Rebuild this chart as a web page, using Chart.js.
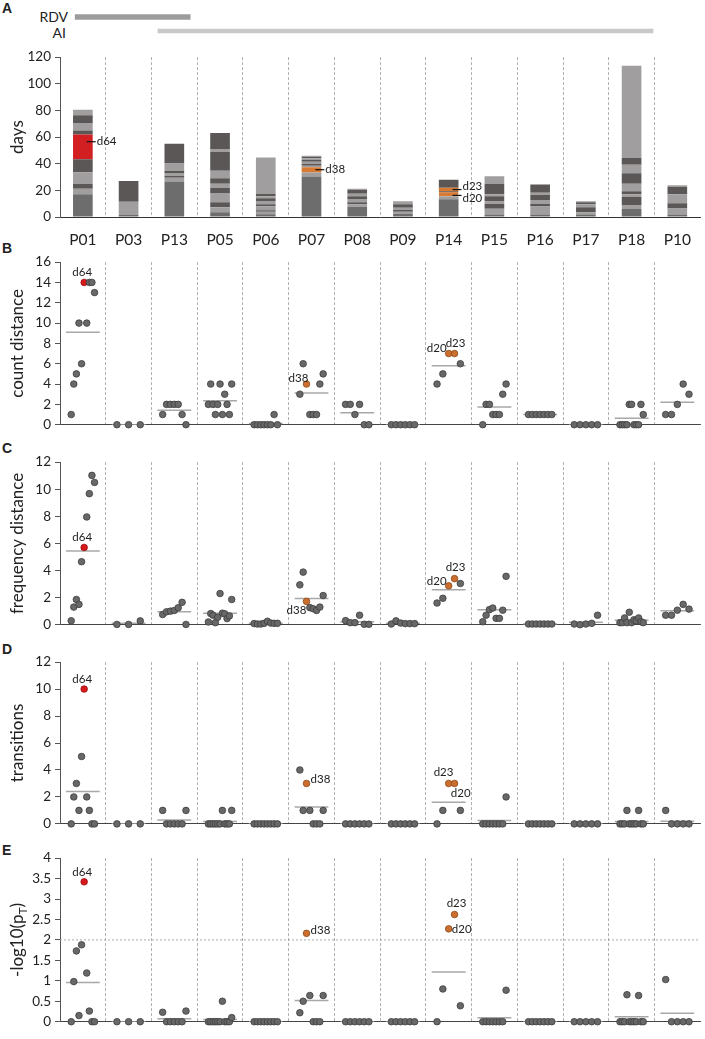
<!DOCTYPE html>
<html>
<head>
<meta charset="utf-8">
<script src="https://cdn.jsdelivr.net/npm/chart.js@4.4.0/dist/chart.umd.min.js"></script>
<style>
  body{margin:0;background:#fff;width:705px;height:1039px;position:relative;overflow:hidden;font-family:Lato,"Open Sans",sans-serif;color:#222}
  canvas{position:absolute;left:0}
  .lbl{position:absolute;left:0;font-size:14px;text-align:right;line-height:16px}
  .pl{position:absolute;left:2px;font:bold 14px "Liberation Sans",Arial,sans-serif;line-height:16px}
</style>
</head>
<body>
<div class="pl" style="top:0">A</div>
<div class="pl" style="top:240px">B</div>
<div class="pl" style="top:440px">C</div>
<div class="pl" style="top:641px">D</div>
<div class="pl" style="top:842px">E</div>
<div class="lbl" style="top:9px;width:68px">RDV</div>
<div class="lbl" style="top:25px;width:66px">AI</div>

<canvas id="cT" width="705" height="40" style="top:5px"></canvas>
<canvas id="cA" width="705" height="210" style="top:45px"></canvas>
<canvas id="cB" width="705" height="187" style="top:250px"></canvas>
<canvas id="cC" width="705" height="187" style="top:450px"></canvas>
<canvas id="cD" width="705" height="186" style="top:650px"></canvas>
<canvas id="cE" width="705" height="188" style="top:846px"></canvas>

<script>
const FONT = 'Lato, "Open Sans", sans-serif';

// ---- data ----
const patients = ['P01','P03','P13','P05','P06','P07','P08','P09','P14','P15','P16','P17','P18','P10'];

// treatment periods, in patient-column units
const therapyNames = ['RDV','AI'];
const rdvSpan = [0.33, 2.83];
const aiSpan = [2.13, 12.89];

// panel A: top of each stacked segment (days) and its kind
// m = base, d = dark, l = light, r = red sample, o = orange sample
const segTops = [
  [17, 21.2, 25, 33.6, 43.4, 62, 65, 70.6, 76.3, 80.5],
  [1.5, 11.4, 27],
  [26.7, 29.5, 31, 33, 34.8, 40.2, 55],
  [3.5, 7.4, 11, 18, 22, 25, 29, 34.8, 49, 51, 63],
  [2, 4, 5, 8, 9.5, 12, 14, 15.5, 17.5, 44.7],
  [30.4, 33.4, 37.3, 38.5, 40, 41.5, 43, 44, 45, 46],
  [7.6, 9.5, 11, 13.5, 15.5, 17.5, 20.5, 21.2],
  [2.5, 4, 5.5, 7, 9.5, 11.9],
  [13.3, 15.6, 19.3, 22, 28],
  [1.9, 6.1, 9.9, 11.6, 15.6, 17, 24.9, 30.6],
  [1.9, 7.9, 9.9, 12.8, 16.5, 18.2, 24.4],
  [1.9, 3.5, 7.4, 9.5, 11, 11.9],
  [6, 9, 15.1, 17, 19.4, 24.9, 32.8, 39.3, 44.2, 113.5],
  [1.9, 6.3, 10.4, 17, 22.5, 23.9]
];
const segKinds = [
  'mldldrdldl','mld','mldldld','mldldldldld','mldldldldl','mloldldldl',
  'mldldldl','mldldl','mlood','mldldldl','mldldld','mldldl','mldldldldl','mldldl'
];

// day tags in panel A
const annPatient = [0, 5, 8, 8];
const annValue = [56.5, 35.5, 20.6, 16.2];
const annText = ['d64', 'd38', 'd23', 'd20'];

// panels B-E: one value per sample, in time order
const countDist = [
  [1,4,5,10,6,14,10,14,14,13],
  [0,0,0],
  [1,2,2,2,2,1,0],
  [2,4,2,1,2,4,1,3,2,1,4],
  [0,0,0,0,0,0,1,0],
  [3,6,4,1,1,1,4,5],
  [2,2,1,2,0,0],
  [0,0,0,0,0,0],
  [4,5,7,7,6],
  [0,2,2,1,1,1,3,4],
  [1,1,1,1,1,1,1],
  [0,0,0,0,0],
  [0,0,0,0,2,2,0,0,0,2,1],
  [1,1,2,4,3]
];
const freqDist = [
  [0.29,1.3,1.86,1.5,4.65,5.7,7.95,9.67,11.02,10.5],
  [0.02,0.02,0.28],
  [0.75,0.95,1.0,1.05,1.25,1.65,0.02],
  [0.2,0.82,0.7,0.15,0.55,2.3,0.85,0.8,0.45,0.65,1.86],
  [0.08,0.05,0.05,0.1,0.25,0.12,0.1,0.1],
  [2.94,3.88,1.72,1.26,1.18,1.05,1.3,2.15],
  [0.3,0.15,0.15,0.7,0.03,0.03],
  [0.05,0.28,0.12,0.08,0.08,0.08],
  [1.6,1.95,2.87,3.4,3.04],
  [0.22,0.7,1.11,1.23,0.47,0.47,1.07,3.57],
  [0.05,0.05,0.05,0.05,0.05,0.05,0.05],
  [0.05,0.0,0.05,0.1,0.7],
  [0.15,0.15,0.5,0.15,0.92,0.15,0.36,0.28,0.5,0.22,0.15],
  [0.7,0.7,1.07,1.5,1.15]
];
const transitions = [
  [0,2,3,1,5,10,2,1,0,0],
  [0,0,0],
  [1,0,0,0,0,0,1],
  [0,0,0,0,0,0,1,0,0,0,1],
  [0,0,0,0,0,0,0,0],
  [4,1,3,1,0,0,0,1],
  [0,0,0,0,0,0],
  [0,0,0,0,0,0],
  [0,1,3,3,1],
  [0,0,0,0,0,0,0,2],
  [0,0,0,0,0,0,0],
  [0,0,0,0,0],
  [0,0,0,1,0,0,0,0,1,0,0],
  [1,0,0,0,0]
];
const logP = [
  [0,0.98,1.73,0.15,1.88,3.42,1.19,0.26,0,0],
  [0,0,0],
  [0.23,0,0,0,0,0,0.26],
  [0,0,0,0,0,0,0.5,0,0,0,0.1],
  [0,0,0,0,0,0,0,0],
  [0.22,0.5,2.16,0.64,0,0,0,0.64],
  [0,0,0,0,0,0],
  [0,0,0,0,0,0],
  [0,0.8,2.27,2.62,0.39],
  [0,0,0,0,0,0,0,0.77],
  [0,0,0,0,0,0,0],
  [0,0,0,0,0],
  [0,0,0,0.66,0,0,0,0,0.64,0,0],
  [1.03,0,0,0,0]
];
const pThreshold = 2;

// highlighted samples
const hiPatient = [0, 5, 8, 8];
const hiIndex = [5, 2, 2, 3];
const hiLabel = ['d64', 'd38', 'd20', 'd23'];
const hiKind = ['r', 'o', 'o', 'o'];

// ---- styles ----
const KIND_COLORS = {m:'#6d6d6d', d:'#5b5757', l:'#a09e9e', r:'#d21f22', o:'#d77a33'};
const DOT = {g:['#686868','#3d3d3d'], r:['#d7191c','#9a1013'], o:['#cc6f2e','#8c4a1b']};
const SPREAD = 0.51;
const MEAN_HALF = 0.37;

const yTitlePlugin = {
  id: 'ytitle',
  afterDraw(chart, args, o) {
    if (!o.text) return;
    const {ctx, chartArea} = chart;
    ctx.save();
    ctx.translate(18, (chartArea.top + chartArea.bottom) / 2);
    ctx.rotate(-Math.PI / 2);
    ctx.fillStyle = '#222';
    ctx.textBaseline = 'middle';
    const big = '17px ' + FONT, small = '12px ' + FONT;
    ctx.font = big;
    const w1 = ctx.measureText(o.text).width;
    const w3 = o.tail ? ctx.measureText(o.tail).width : 0;
    ctx.font = small;
    const w2 = o.sub ? ctx.measureText(o.sub).width : 0;
    let x = -(w1 + w2 + w3) / 2;
    ctx.font = big; ctx.fillText(o.text, x, 0); x += w1;
    if (o.sub) { ctx.font = small; ctx.fillText(o.sub, x, 5); x += w2; }
    if (o.tail) { ctx.font = big; ctx.fillText(o.tail, x, 0); }
    ctx.restore();
  }
};

function yAxis(max, step) {
  return {
    min: 0, max: max, stacked: true,
    ticks: {stepSize: step, color: '#222', font: {size: 13.5, family: FONT}, padding: 4, callback: v => String(v)},
    grid: {drawOnChartArea: false, tickLength: 5, tickColor: '#555'},
    border: {color: '#555', width: 1},
    afterFit(s) { s.width = 60; }
  };
}

function sepColor(i) { return (i > 0 && i < 14) ? '#9a9a9a' : 'rgba(0,0,0,0)'; }

// ---- treatment timeline ----
new Chart(document.getElementById('cT'), {
  type: 'bar',
  data: {labels: therapyNames, datasets: [
    {data: [rdvSpan, null], backgroundColor: '#9c9c9c', barThickness: 5, grouped: false},
    {data: [null, aiSpan], backgroundColor: '#c8c8c8', barThickness: 4, grouped: false}
  ]},
  options: {
    indexAxis: 'y', responsive: false, animation: false,
    layout: {padding: {left: 60, right: 1, top: 5, bottom: 7}},
    scales: {x: {type: 'linear', min: 0, max: 14, display: false}, y: {display: false}},
    plugins: {legend: {display: false}, tooltip: {enabled: false}}
  }
});

// ---- panel A ----
const nLayers = Math.max(...segTops.map(a => a.length));
const barSets = [];
for (let k = 0; k < nLayers; k++) {
  barSets.push({
    data: patients.map((_, p) => segTops[p][k] != null ? segTops[p][k] - (k ? segTops[p][k-1] : 0) : null),
    backgroundColor: patients.map((_, p) => KIND_COLORS[segKinds[p][k]] || 'rgba(0,0,0,0)'),
    borderColor: '#222',
    borderWidth: patients.map((_, p) => (segKinds[p][k] === 'o' && segKinds[p][k+1] === 'o') ? {top: 1, left: 0, right: 0, bottom: 0} : 0),
    borderSkipped: false,
    barPercentage: 0.43, categoryPercentage: 1
  });
}

const dayTagPlugin = {
  id: 'daytags',
  afterDatasetsDraw(chart) {
    const {ctx} = chart;
    const meta = chart.getDatasetMeta(0);
    const y = chart.scales.y;
    const dy = [0, 0, -3, 3];
    ctx.save();
    ctx.strokeStyle = '#111'; ctx.lineWidth = 1.2;
    ctx.fillStyle = '#222'; ctx.font = '11.5px ' + FONT; ctx.textBaseline = 'middle';
    annPatient.forEach((p, j) => {
      const bar = meta.data[p];
      const right = bar.x + bar.width / 2;
      const py = y.getPixelForValue(annValue[j]);
      ctx.beginPath(); ctx.moveTo(right - 6, py); ctx.lineTo(right + 3, py); ctx.stroke();
      ctx.fillText(annText[j], right + 4, py + dy[j]);
    });
    ctx.restore();
  }
};

new Chart(document.getElementById('cA'), {
  type: 'bar',
  data: {labels: patients, datasets: barSets},
  plugins: [dayTagPlugin, yTitlePlugin],
  options: {
    responsive: false, animation: false,
    layout: {padding: {left: 0, right: 1, top: 10, bottom: 0}},
    scales: {
      x: {
        type: 'category', stacked: true, offset: true,
        grid: {offset: true, drawTicks: false, lineWidth: 0.8, color: c => sepColor(c.index)},
        border: {dash: [3, 2], color: '#333', width: 1},
        ticks: {color: '#222', font: {size: 15.5, family: FONT}, padding: 14},
        afterFit(s) { s.height = 38; }
      },
      y: yAxis(120, 20)
    },
    plugins: {legend: {display: false}, tooltip: {enabled: false}, ytitle: {text: 'days'}}
  }
});

// ---- panels B-E ----
function dotPanel(id, values, yMax, yStep, padTop, xH, title, offsets, extra) {
  const pts = [], bg = [], bd = [], means = [];
  const hiEl = hiPatient.map(() => -1);
  values.forEach((arr, p) => {
    const n = arr.length;
    arr.forEach((v, i) => {
      const x = p + 0.5 + (n > 1 ? (i / (n - 1) - 0.5) * SPREAD : 0);
      let kind = 'g';
      hiPatient.forEach((hp, j) => { if (hp === p && hiIndex[j] === i) { kind = hiKind[j]; hiEl[j] = pts.length; } });
      pts.push({x, y: v});
      bg.push(DOT[kind][0]); bd.push(DOT[kind][1]);
    });
    const m = arr.reduce((a, b) => a + b, 0) / n;
    means.push({x: p + 0.5 - MEAN_HALF, y: m}, {x: p + 0.5 + MEAN_HALF, y: m}, {x: p + 0.5, y: null});
  });

  const datasets = [
    {data: pts, pointRadius: 3.3, pointBackgroundColor: bg, pointBorderColor: bd, pointBorderWidth: 0.8, clip: false, order: 1},
    {data: means, showLine: true, borderColor: '#a8a8a8', borderWidth: 1.5, pointRadius: 0, spanGaps: false, order: 2}
  ];
  if (extra != null) {
    datasets.push({data: [{x: 0, y: extra}, {x: 14, y: extra}], showLine: true, borderColor: '#aaa', borderWidth: 1, borderDash: [2, 2], pointRadius: 0, order: 3});
  }

  const labelPlugin = {
    id: 'hilabels',
    afterDatasetsDraw(chart) {
      const {ctx} = chart;
      const meta = chart.getDatasetMeta(0);
      ctx.save();
      ctx.fillStyle = '#222'; ctx.font = '11.5px ' + FONT;
      ctx.textAlign = 'center'; ctx.textBaseline = 'middle';
      hiEl.forEach((e, j) => {
        const el = meta.data[e];
        ctx.fillText(hiLabel[j], el.x + offsets[j][0], el.y + offsets[j][1]);
      });
      ctx.restore();
    }
  };

  new Chart(document.getElementById(id), {
    type: 'scatter',
    data: {datasets},
    plugins: [labelPlugin, yTitlePlugin],
    options: {
      responsive: false, animation: false,
      layout: {padding: {left: 0, right: 1, top: padTop, bottom: 0}},
      scales: {
        x: {
          type: 'linear', min: 0, max: 14,
          ticks: {display: false, stepSize: 1},
          grid: {drawTicks: false, lineWidth: 0.8, color: c => sepColor(c.tick ? c.tick.value : -1)},
          border: {dash: [3, 2], color: '#444', width: 1},
          afterFit(s) { s.height = xH; }
        },
        y: Object.assign(yAxis(yMax, yStep), {stacked: false})
      },
      plugins: {legend: {display: false}, tooltip: {enabled: false}, ytitle: title}
    }
  });
}

dotPanel('cB', countDist, 16, 2, 9.3, 12.3, {text: 'count distance'},
  [[-2,-10],[-8,-6],[-12,-5],[1,-10]]);
dotPanel('cC', freqDist, 12, 2, 9.3, 12.3, {text: 'frequency distance'},
  [[-2,-10],[-10,9],[-12,-5],[1,-11]]);
dotPanel('cD', transitions, 12, 2, 8.3, 12, {text: 'transitions'},
  [[-2,-10],[14,-4],[12,10],[-11,-11]]);
dotPanel('cE', logP, 4, 0.5, 10, 12.3, {text: '-log10(p', sub: 'T', tail: ')'},
  [[-2,-10],[14,-3],[13,0],[2,-11]], pThreshold);
</script>
</body>
</html>
